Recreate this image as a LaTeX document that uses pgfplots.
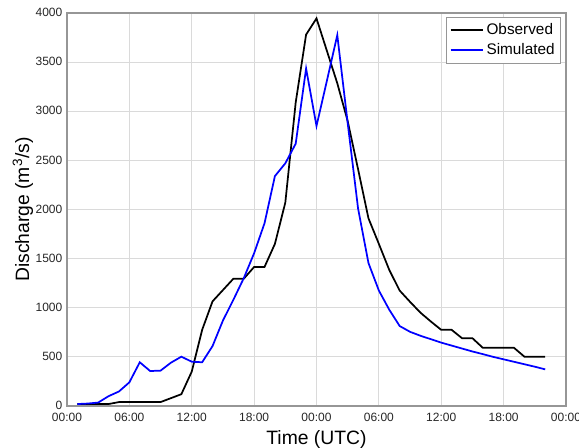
\documentclass[border=0pt]{standalone}
\usepackage{pgfplots}
\pgfplotsset{compat=1.18}
\usepackage{fontspec}
\setmainfont{Liberation Sans}
\definecolor{framegray}{RGB}{150,150,150}
\definecolor{gridgray}{RGB}{218,218,218}
\begin{document}
\begin{tikzpicture}
\useasboundingbox (-50.25pt,-30.75pt) rectangle (384pt,304.5pt);
\begin{axis}[
  scale only axis,
  width=374.25pt, height=294.75pt,
  at={(0,0)}, anchor=south west,
  xmin=0, xmax=48, ymin=0, ymax=4000,
  xtick={0,6,12,18,24,30,36,42,48},
  xticklabels={00:00,06:00,12:00,18:00,00:00,06:00,12:00,18:00,00:00},
  ytick={0,500,1000,1500,2000,2500,3000,3500,4000},
  major tick length=0pt,
  grid=major,
  major grid style={gridgray, line width=0.8pt},
  axis line style={framegray, line width=0.9pt},
  /pgf/number format/assume math mode=true,
  /pgf/number format/1000 sep={},
  ticklabel style={font=\fontsize{9}{10}\selectfont, text=black!85},
  xticklabel style={yshift=-1.5pt},
  yticklabel style={yshift=0.3pt},
  xlabel={Time (UTC)},
  ylabel={Discharge (m\textsuperscript{3}/s)},
  label style={font=\fontsize{14.5}{16}\selectfont},
  xlabel style={at={(axis description cs:0.5,-0.099)}, anchor=base},
  ylabel style={at={(axis description cs:-0.076,0.5)}, anchor=base},
  legend style={at={(axis description cs:0.99,0.99)}, anchor=north east,
    draw=framegray, font=\fontsize{11.5}{13}\selectfont,
    inner xsep=2.5pt, inner ysep=3pt, row sep=1pt},
  legend cell align=left,
  legend image code/.code={\draw[#1, line width=1.5pt] (0cm,0cm) -- (0.85cm,0cm);},
]
\addplot[black, line width=1.3pt] coordinates {
(1,20) (2,20) (3,20) (4,20) (5,40) (6,40) (7,40) (8,40) (9,40) (10,80)
(11,120) (12,350) (13,775) (14,1065) (15,1180) (16,1295) (17,1295) (18,1415) (19,1415) (20,1650)
(21,2070) (22,3090) (23,3780) (24,3945) (25,3615) (26,3285) (27,2900) (28,2410) (29,1910) (30,1650)
(31,1385) (32,1175) (33,1060) (34,950) (35,860) (36,775) (37,775) (38,690) (39,690) (40,592)
(41,592) (42,592) (43,592) (44,502) (45,502) (46,502)
};
\addlegendentry{Observed}
\addplot[blue, line width=1.3pt] coordinates {
(1,20) (2,25) (3,35) (4,100) (5,148) (6,241) (7,445) (8,356) (9,360) (10,441)
(11,502) (12,451) (13,445) (14,610) (15,870) (16,1080) (17,1300) (18,1555) (19,1860) (20,2340)
(21,2470) (22,2670) (23,3435) (24,2850) (25,3310) (26,3775) (27,2880) (28,2010) (29,1455) (30,1175)
(31,980) (32,814) (33,755) (34,715) (35,680) (36,645) (37,615) (38,585) (39,555) (40,528)
(41,500) (42,475) (43,450) (44,425) (45,400) (46,373)
};
\addlegendentry{Simulated}
\end{axis}
\end{tikzpicture}
\end{document}
